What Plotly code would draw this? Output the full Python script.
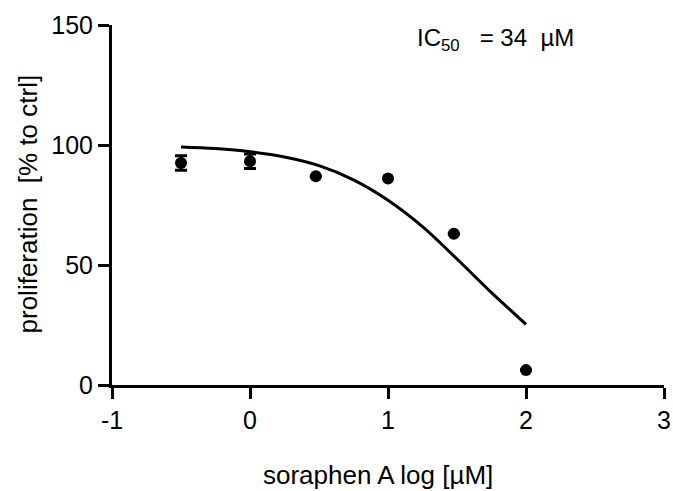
import plotly.graph_objects as go

# Data
log_conc = [-0.5, 0.0, 0.477, 1.0, 1.477, 2.0]
prolif = [92.5, 93.2, 87.0, 86.0, 63.0, 6.2]
prolif_err = [3.0, 3.0, 0, 0, 0, 0]

fit_x = [-0.5, -0.25, 0.0, 0.25, 0.5, 0.75, 1.0, 1.25, 1.5, 1.75, 2.0]
fit_y = [99.2, 98.5, 97.2, 95.0, 91.4, 85.5, 77.0, 66.0, 52.5, 38.5, 25.3]

x_ticks = [-1, 0, 1, 2, 3]
y_ticks = [0, 50, 100, 150]

x_title = "soraphen A log [µM]"
y_title = "proliferation&nbsp;&nbsp;[% to ctrl]"
ic50_text = "IC<sub>50</sub>&nbsp;&nbsp;&nbsp;= 34&nbsp;&nbsp;µM"

FONT = "Liberation Sans, Arial, sans-serif"

fig = go.Figure()
fig.add_trace(go.Scatter(
    x=fit_x, y=fit_y, mode="lines",
    line=dict(color="black", width=3, shape="spline"),
    showlegend=False, hoverinfo="skip"))
fig.add_trace(go.Scatter(
    x=log_conc, y=prolif, mode="markers",
    marker=dict(color="black", size=12),
    error_y=dict(type="data", array=prolif_err, color="black", thickness=3, width=6),
    showlegend=False))

fig.add_annotation(
    x=0.549, y=0.961, xref="paper", yref="paper",
    text=ic50_text, showarrow=False,
    font=dict(family=FONT, size=24, color="black"), xanchor="left", yanchor="middle")

fig.add_annotation(
    x=0.482, y=-0.25, xref="paper", yref="paper",
    text=x_title, showarrow=False,
    font=dict(family=FONT, size=26, color="black"), xanchor="center", yanchor="middle")

fig.add_annotation(
    x=-0.153, y=0.503, xref="paper", yref="paper",
    text=y_title, showarrow=False, textangle=-90,
    font=dict(family=FONT, size=26, color="black"), xanchor="center", yanchor="middle")

axis_common = dict(
    showline=True, linecolor="black", linewidth=3,
    ticks="outside", ticklen=11, tickwidth=3, tickcolor="black",
    showgrid=False, zeroline=False, automargin=False,
    tickfont=dict(family=FONT, size=25, color="black"),
)

fig.update_layout(
    width=673, height=491,
    margin=dict(l=112, r=9, t=25, b=106),
    paper_bgcolor="white", plot_bgcolor="white",
    xaxis=dict(range=[-1, 3], tickvals=x_ticks, ticktext=[str(v) for v in x_ticks], **axis_common),
    yaxis=dict(range=[0, 150], tickvals=y_ticks, ticktext=[str(v) for v in y_ticks], **axis_common),
)

fig.write_html(
    "out.html",
    config={"displayModeBar": False},
    post_script="document.body.style.margin='0';document.body.style.overflow='hidden';",
)
